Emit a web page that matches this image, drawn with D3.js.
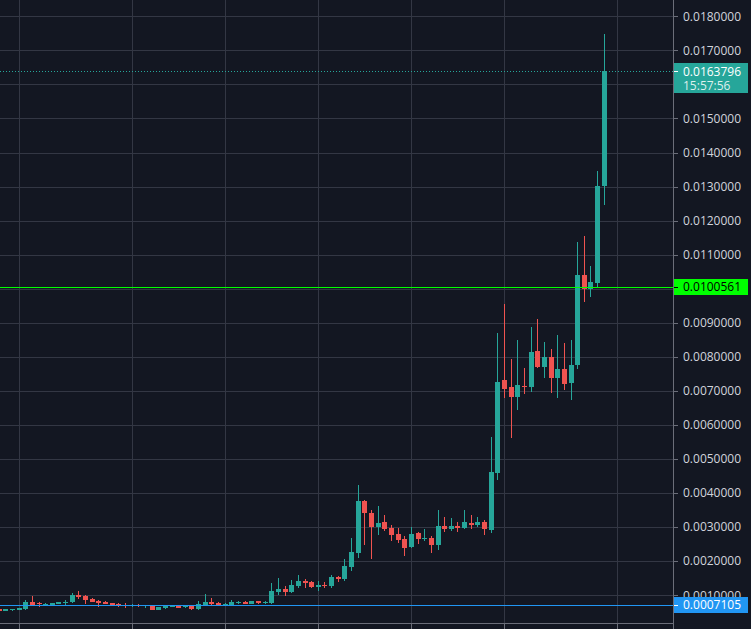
<!DOCTYPE html>
<html><head><meta charset="utf-8">
<script src="https://cdn.jsdelivr.net/npm/d3@7/dist/d3.min.js"></script>
<style>
html,body{margin:0;padding:0;background:#131722;overflow:hidden;}
svg{display:block;}
text{font-family:"Open Sans","Noto Sans",sans-serif;font-size:12px;}
</style></head>
<body>
<svg id="c" width="751" height="629"></svg>
<script>
// ---- data ----
const opens  = [0.000589,0.000548,0.000569,0.000569,0.000598,0.000803,0.000760,0.000724,0.000715,0.000745,
  0.000775,0.000803,0.001018,0.000979,0.000891,0.000833,0.000812,0.000774,0.000742,0.000721,
  0.000718,0.000718,0.000700,0.000695,0.000577,0.000636,0.000665,0.000695,0.000648,0.000695,
  0.000607,0.000706,0.000803,0.000783,0.000715,0.000715,0.000790,0.000812,0.000753,0.000833,
  0.000790,0.000774,0.001106,0.001185,0.001106,0.001282,0.001420,0.001390,0.001253,0.001302,
  0.001273,0.001537,0.001479,0.001831,0.002243,0.003769,0.003417,0.003006,0.003152,0.002976,
  0.002800,0.002653,0.002418,0.002829,0.002653,0.002683,0.002478,0.003035,0.002947,0.003035,
  0.002976,0.003123,0.003064,0.003152,0.002917,0.004591,0.007322,0.007117,0.006824,0.007146,
  0.007117,0.008174,0.007704,0.007997,0.007381,0.007645,0.007234,0.007763,0.010405,0.009985,
  0.010170,0.013017];
const highs  = [0.000600,0.000600,0.000600,0.000640,0.000862,0.000980,0.000803,0.000783,0.000780,0.000810,
  0.000862,0.001068,0.001126,0.001000,0.000930,0.000862,0.000840,0.000780,0.000783,0.000765,
  0.000753,0.000745,0.000712,0.000700,0.000660,0.000700,0.000700,0.000700,0.000700,0.000700,
  0.000833,0.001038,0.000921,0.000810,0.000760,0.000862,0.000833,0.000820,0.000840,0.000840,
  0.000833,0.001361,0.001517,0.001273,0.001449,0.001596,0.001479,0.001420,0.001420,0.001390,
  0.001596,0.001567,0.002066,0.002683,0.004239,0.003798,0.003505,0.003622,0.003358,0.003064,
  0.002976,0.002741,0.003006,0.002859,0.002947,0.002741,0.003505,0.003299,0.003270,0.003152,
  0.003505,0.003358,0.003299,0.003211,0.005648,0.008701,0.009553,0.007939,0.008496,0.007675,
  0.008878,0.009114,0.008437,0.008232,0.008643,0.008408,0.008496,0.011384,0.011548,0.010669,
  0.013457,0.017480];
const lows   = [0.000540,0.000545,0.000539,0.000565,0.000568,0.000710,0.000665,0.000706,0.000710,0.000740,
  0.000724,0.000783,0.000891,0.000753,0.000794,0.000665,0.000735,0.000700,0.000665,0.000636,
  0.000665,0.000665,0.000636,0.000570,0.000570,0.000607,0.000648,0.000630,0.000618,0.000577,
  0.000577,0.000695,0.000715,0.000706,0.000710,0.000710,0.000753,0.000745,0.000745,0.000753,
  0.000753,0.000753,0.001009,0.000988,0.001076,0.001205,0.001214,0.001214,0.001135,0.001205,
  0.001224,0.001400,0.001429,0.001723,0.002096,0.002478,0.002066,0.002771,0.002889,0.002595,
  0.002536,0.002154,0.002389,0.002507,0.002595,0.002243,0.002331,0.002859,0.002889,0.002859,
  0.002947,0.002947,0.003006,0.002771,0.002839,0.004385,0.006794,0.005619,0.006442,0.006911,
  0.006970,0.007675,0.007381,0.006941,0.006794,0.007029,0.006735,0.007645,0.009612,0.009759,
  0.010014,0.012469];
const closes = [0.000548,0.000598,0.000598,0.000636,0.000803,0.000715,0.000745,0.000753,0.000774,0.000803,
  0.000790,0.001009,0.000959,0.000871,0.000812,0.000774,0.000753,0.000706,0.000730,0.000712,
  0.000727,0.000709,0.000709,0.000577,0.000657,0.000695,0.000695,0.000636,0.000695,0.000607,
  0.000753,0.000803,0.000736,0.000724,0.000753,0.000812,0.000800,0.000753,0.000833,0.000774,
  0.000800,0.001126,0.001185,0.001106,0.001302,0.001420,0.001361,0.001244,0.001302,0.001265,
  0.001537,0.001479,0.001860,0.002272,0.003769,0.003417,0.003006,0.003134,0.002947,0.002771,
  0.002624,0.002389,0.002800,0.002653,0.002683,0.002478,0.003035,0.002947,0.003035,0.002986,
  0.003152,0.003064,0.003152,0.002956,0.004620,0.007263,0.007058,0.006824,0.007175,0.007117,
  0.008144,0.007704,0.007997,0.007381,0.007645,0.007205,0.007763,0.010405,0.009985,0.010199,
  0.013017,0.0163796];
const priceTicks = [0.001,0.002,0.003,0.004,0.005,0.006,0.007,0.008,0.009,0.010,0.011,0.012,0.013,0.014,0.015,0.016,0.017,0.018];
const timeTickIdx = [3,20,34,48,62,76,93];
const lastPrice = 0.0163796;
const lastTime = "15:57:56";
const greenLevel = 0.0100561;
const blueLevel = 0.0007105;

// ---- layout ----
const W = 751, H = 629, paneW = 673, paneH = 623;
const UP = "#26a69a", DOWN = "#ef5350", GRID = "#333744", TXT = "#d1d4dc", BORDER = "#6b6e79";
const svg = d3.select("#c");
const x = d3.scaleLinear().domain([0, 91]).range([-1.35, 603.8]);
const y = d3.scaleLinear().domain([0.001, 0.018]).range([595.3, 16.3]);
const px = v => Math.round(v) + 0.5;

svg.append("rect").attr("width", W).attr("height", H).attr("fill", "#131722");

// grid
const g = svg.append("g").attr("shape-rendering", "crispEdges");
g.selectAll(".hg").data(priceTicks).join("line")
  .attr("x1", 0).attr("x2", paneW).attr("y1", d => px(y(d))).attr("y2", d => px(y(d)))
  .attr("stroke", GRID).attr("stroke-width", 1);
g.selectAll(".vg").data(timeTickIdx).join("line")
  .attr("x1", d => px(x(d))).attr("x2", d => px(x(d))).attr("y1", 0).attr("y2", H)
  .attr("stroke", GRID).attr("stroke-width", 1);

// candles
const data = opens.map((o, i) => ({i, o, h: highs[i], l: lows[i], c: closes[i]}));
const cg = svg.append("g").attr("shape-rendering", "crispEdges");
cg.selectAll(".wick").data(data).join("line")
  .attr("x1", d => px(x(d.i))).attr("x2", d => px(x(d.i)))
  .attr("y1", d => Math.round(y(d.h))).attr("y2", d => Math.round(y(d.l)))
  .attr("stroke", d => d.c >= d.o ? UP : DOWN).attr("stroke-width", 1);
cg.selectAll(".body").data(data).join("rect")
  .attr("x", d => Math.round(x(d.i)) - 2)
  .attr("width", 5)
  .attr("y", d => Math.round(y(Math.max(d.o, d.c))))
  .attr("height", d => Math.max(1, Math.round(y(Math.min(d.o, d.c))) - Math.round(y(Math.max(d.o, d.c)))))
  .attr("fill", d => d.c >= d.o ? UP : DOWN);

// price lines
const ln = svg.append("g").attr("shape-rendering", "crispEdges");
ln.append("line").attr("x1", 0).attr("x2", paneW).attr("y1", px(y(lastPrice))).attr("y2", px(y(lastPrice)))
  .attr("stroke", UP).attr("stroke-dasharray", "1,2");
ln.append("line").attr("x1", 0).attr("x2", paneW).attr("y1", px(y(greenLevel))).attr("y2", px(y(greenLevel)))
  .attr("stroke", "#00ff00");
ln.append("line").attr("x1", 0).attr("x2", paneW).attr("y1", px(y(blueLevel))).attr("y2", px(y(blueLevel)))
  .attr("stroke", "#2196f3");

// axis background & borders
const ax = svg.append("g");
ax.append("rect").attr("x", paneW).attr("y", 0).attr("width", W - paneW).attr("height", H).attr("fill", "#131722");
ax.append("rect").attr("x", 0).attr("y", paneH + 1).attr("width", paneW).attr("height", H - paneH).attr("fill", "#131722");
ax.selectAll(".tt").data(timeTickIdx).join("line").attr("shape-rendering", "crispEdges")
  .attr("x1", d => px(x(d))).attr("x2", d => px(x(d))).attr("y1", paneH).attr("y2", H)
  .attr("stroke", BORDER);
ax.append("line").attr("shape-rendering", "crispEdges").attr("x1", 0).attr("x2", paneW + 1).attr("y1", paneH + 0.5).attr("y2", paneH + 0.5).attr("stroke", BORDER);
ax.append("line").attr("shape-rendering", "crispEdges").attr("x1", paneW + 0.5).attr("x2", paneW + 0.5).attr("y1", 0).attr("y2", H).attr("stroke", BORDER);

// price axis ticks + labels (labels fully hidden behind a marker box are not drawn)
const fmt = d3.format(".7f");
const markers = [[lastPrice, 30], [greenLevel, 16], [blueLevel, 16]];
const hidden = d => markers.some(([v, h]) => y(d) - 6 >= Math.round(y(v)) - 8 && y(d) + 6 <= Math.round(y(v)) - 8 + h);
ax.selectAll(".pt").data(priceTicks).join("line").attr("shape-rendering", "crispEdges")
  .attr("x1", paneW).attr("x2", paneW + 5).attr("y1", d => px(y(d))).attr("y2", d => px(y(d)))
  .attr("stroke", BORDER);
ax.selectAll(".pl").data(priceTicks.filter(d => !hidden(d))).join("text")
  .attr("x", paneW + 10).attr("y", d => y(d)).attr("dy", "0.35em")
  .attr("fill", TXT).text(d => fmt(d));

// label boxes
function box(v, bg, fg, lines, h) {
  const yy = y(v);
  const bg_ = ax.append("g");
  bg_.append("rect").attr("x", paneW + 1).attr("y", Math.round(yy) - 8).attr("width", 74).attr("height", h).attr("fill", bg);
  bg_.append("line").attr("shape-rendering", "crispEdges").attr("x1", paneW + 1).attr("x2", paneW + 5)
    .attr("y1", px(yy)).attr("y2", px(yy)).attr("stroke", fg);
  lines.forEach((t, k) => {
    bg_.append("text").attr("x", paneW + 10).attr("y", yy + k * 14).attr("dy", "0.35em")
      .attr("fill", fg).attr("fill-opacity", k ? 0.85 : 1).text(t);
  });
}
box(lastPrice, UP, "#ffffff", [fmt(lastPrice), lastTime], 30);
box(greenLevel, "#00ff00", "#000000", [fmt(greenLevel)], 16);
box(blueLevel, "#2196f3", "#ffffff", [fmt(blueLevel)], 16);
</script>
</body></html>
